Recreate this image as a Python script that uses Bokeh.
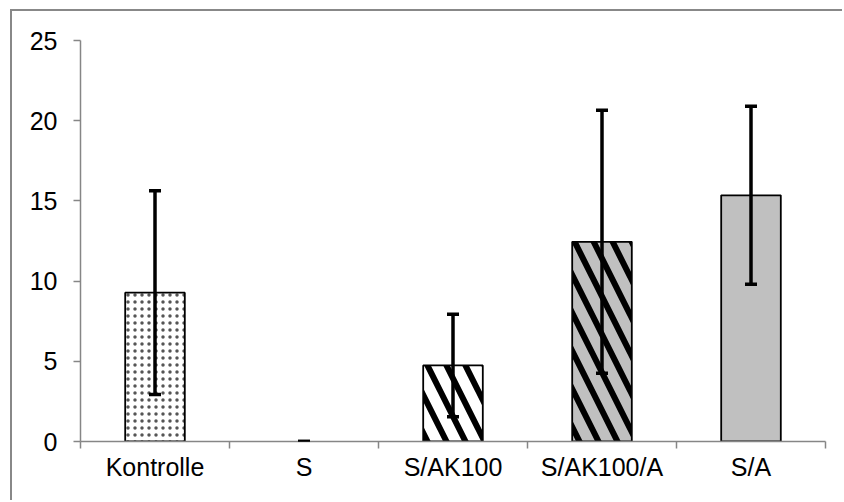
from bokeh.plotting import figure
from bokeh.models import ColumnDataSource, FixedTicker, Whisker, TeeHead, Range1d
from bokeh.embed import file_html
from bokeh.resources import INLINE

categories = ["Kontrolle", "S", "S/AK100", "S/AK100/A", "S/A"]
means = [9.28, 0.0, 4.74, 12.45, 15.35]
errors = [6.35, 0.0, 3.2, 8.2, 5.55]
y_ticks = [0, 5, 10, 15, 20, 25]

fill_colors = ["white", "white", "white", "#c0c0c0", "#c0c0c0"]
hatches = ["dot", " ", "left_diagonal_line", "left_diagonal_line", " "]
hatch_scales = [7, 12, 38, 38, 12]
hatch_weights = [1.5, 1, 6, 6, 1]
hatch_colors = ["#555555", "black", "black", "black", "black"]

n = len(categories)
centers = [i + 0.5 for i in range(n)]
src = ColumnDataSource(dict(
    x=centers, top=means,
    upper=[m + e for m, e in zip(means, errors)],
    lower=[m - e for m, e in zip(means, errors)],
    fill=fill_colors, hatch=hatches, hs=hatch_scales, hw=hatch_weights, hc=hatch_colors,
    la=[0 if m == 0 else 1 for m in means],
))

p = figure(width=832, height=491, output_backend="svg", toolbar_location=None,
           x_range=Range1d(0, n), y_range=Range1d(0, 25),
           min_border_left=68, min_border_right=19, min_border_top=29, min_border_bottom=61,
           styles={"border-left": "2px solid #888888", "border-top": "2px solid #888888",
                   "margin-left": "10px", "margin-top": "9px"})
p.outline_line_color = None
p.grid.visible = False

p.vbar(x="x", top="top", bottom=0, width=0.40, source=src,
       fill_color="fill", line_color="black", line_width=1.8, line_alpha="la",
       hatch_pattern="hatch", hatch_scale="hs", hatch_weight="hw", hatch_color="hc")

w = Whisker(base="x", upper="upper", lower="lower", source=src,
            line_color="black", line_width=3.5, level="overlay",
            upper_head=TeeHead(size=12, line_width=3.5, line_color="black"),
            lower_head=TeeHead(size=12, line_width=3.5, line_color="black"))
p.add_layout(w)

font = "Liberation Sans"
xa = p.xaxis[0]
xa.ticker = FixedTicker(ticks=centers, minor_ticks=list(range(n + 1)))
xa.major_label_overrides = {c: lab for c, lab in zip(centers, categories)}
xa.major_tick_out = 0
xa.major_tick_in = 0
xa.minor_tick_out = 7
xa.minor_tick_in = 0
xa.minor_tick_line_color = "#868686"
xa.minor_tick_line_width = 1.5
xa.major_label_standoff = 4

ya = p.yaxis[0]
ya.ticker = FixedTicker(ticks=y_ticks, minor_ticks=[])
ya.major_tick_out = 7
ya.major_tick_in = 0
ya.minor_tick_out = 0
ya.minor_tick_in = 0
ya.major_label_standoff = 16
ya.major_tick_line_color = "#868686"
ya.major_tick_line_width = 1.5

for ax in (xa, ya):
    ax.axis_line_color = "#868686"
    ax.axis_line_width = 1.5
    ax.major_label_text_font = font
    ax.major_label_text_font_size = "25px"
    ax.major_label_text_color = "black"

open("out.html", "w").write(file_html(p, INLINE))
